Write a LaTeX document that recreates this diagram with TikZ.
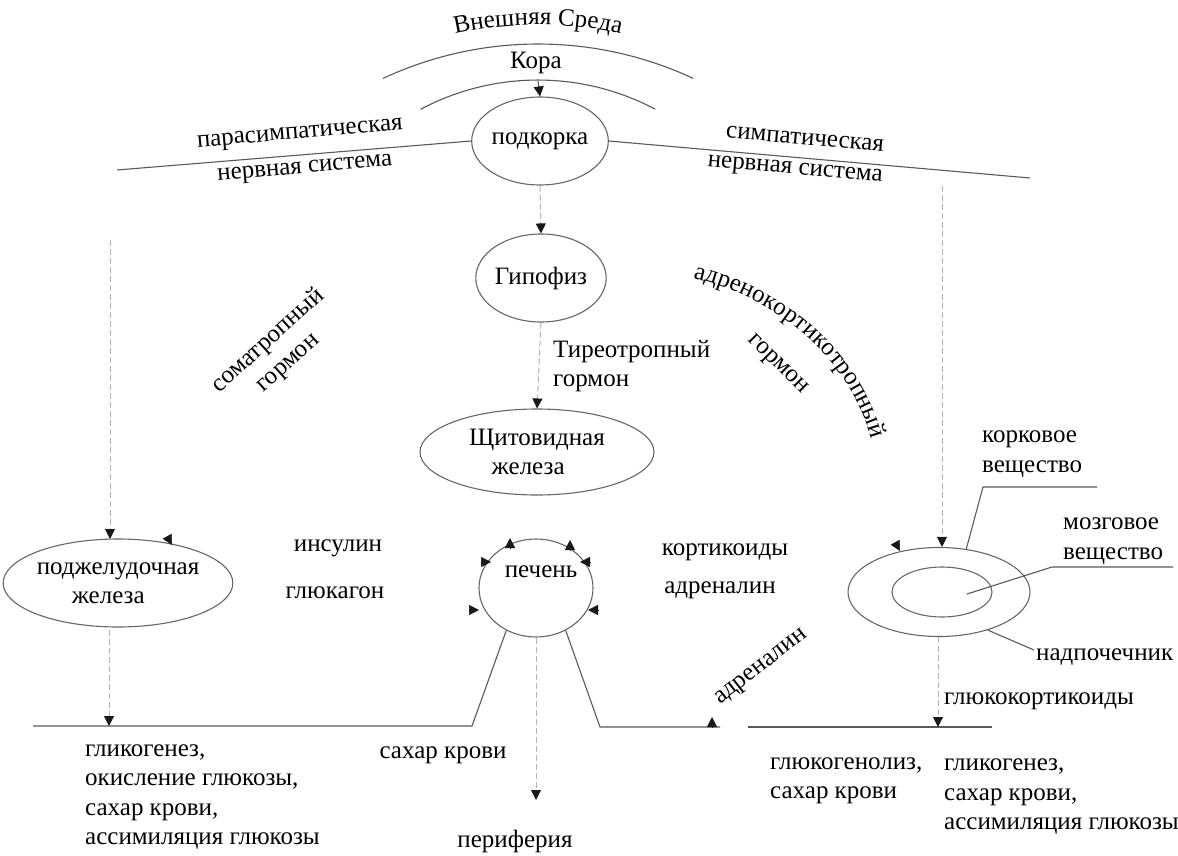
\documentclass[tikz,border=0pt]{standalone}
\usepackage{fontspec}
\setmainfont{Liberation Serif}
\newfontfamily\rusf{Liberation Serif}
\usetikzlibrary{shapes.geometric,arrows.meta,decorations.text,calc}
\begin{document}
\begin{tikzpicture}[x=1pt,y=-1pt,
  every node/.style={font=\rusf\fontsize{25}{29.5}\selectfont, inner sep=0pt, text=black},
  ell/.style={draw=black!60, line width=1.1pt, ellipse, inner sep=0pt},
  ln/.style={draw=black!65, line width=1.1pt},
  faint/.style={draw=black!30, line width=1pt, dash pattern=on 6pt off 3pt},
  arr/.style={-{Triangle[length=10pt,width=10pt,color=black!90]}},
  tiponly/.style={draw=black!90, line width=0.5pt, -{Triangle[length=10pt,width=10pt]}}
]
\useasboundingbox (0,0) rectangle (1178,856);

% --- top: arcs ---
\draw[ln] (383,78.4) arc[start angle=-115, end angle=-65, radius=367];
\draw[ln] (420.6,109.3) arc[start angle=-118, end angle=-62, radius=250];
\path[decorate, decoration={text along path, text align=center,
  text={|\rusf\fontsize{25}{30}\selectfont|Внешняя Среда}}]
  (393.4,53) arc[start angle=-112, end angle=-68, radius=386];
\node (kora) at (536,63) {Кора};
\coordinate (koratop) at (538,81);

% --- nodes ---
\node[ell, minimum width=122pt, minimum height=88pt] (pod) at (540,141) {подкорка};
\node[ell, minimum width=120pt, minimum height=88pt] (gip) at (541,278) {Гипофиз};
\node[ell, minimum width=234pt, minimum height=86pt, align=left] (thy) at (537,452) {Щитовидная\\\hspace*{0.9em}железа};
\node[ell, minimum width=114pt, minimum height=98pt] (liver) at (536,588) {};
\node (liverlab) at (541,572) {печень};
\node[ell, minimum width=210pt, minimum height=88pt, align=left] (panc) at (118,583) {поджелудочная\\\hspace*{1.4em}железа};
\node[ell, minimum width=182pt, minimum height=89pt] (adr) at (939,592) {};
\node[ell, minimum width=100pt, minimum height=50pt] (adrin) at (942,592) {};

% --- nerve system lines ---
\coordinate (pl) at (117,170);
\coordinate (pr) at (1030,178);
\draw[ln] (pl) -- (pod.west);
\draw[ln] (pod.east) -- (pr);
\node[rotate=5] (para) at (300,135) {парасимпатическая};
\node[rotate=5] (nerv1) at (305,170) {нервная система};
\node[rotate=-5] (sym) at (805,139) {симпатическая};
\node[rotate=-5] (nerv2) at (795,171) {нервная система};

% --- central column ---
\draw[ln, arr] (koratop) -- (pod.north);
\draw[faint, arr] (pod.south) -- (gip.north);
\draw[faint, arr] (gip.south) -- (thy.north);
\node[align=left, anchor=west] (tsh) at (553,366) {Тиреотропный\\гормон};

% --- side verticals ---
\coordinate (vl) at (110,240);
\draw[faint, arr] (vl) -- (110,539);
\coordinate (vr) at (942,186);
\draw[faint, arr] (vr) -- (vr |- adr.north);

% --- hormone labels ---
\node[rotate=42, align=center] (stg) at (278,352) {соматропный\\гормон};
\path[decorate, decoration={text along path, text align=center,
  text={|\rusf\fontsize{25}{30}\selectfont|адренокортикотропный}}]
  (664,273) .. controls (766,285) and (862,357) .. (878,468);
\node[rotate=-45] (acth2) at (777,365) {гормон};

\node (ins) at (338,548) {инсулин};
\node (glu) at (335,593) {глюкагон};
\node (kort) at (725,552) {кортикоиды};
\node (adrn) at (720,590) {адреналин};

% --- arrowheads at pancreas, adrenal ---
\draw[tiponly] (167,536) -- (172,545);
\draw[tiponly] (895,542) -- (900,551);

% --- arrowheads around liver ---
\draw[tiponly] (510,548) -- (510,538);
\draw[tiponly] (570,550) -- (570,540);
\draw[tiponly] (481,562) -- (491,562);
\draw[tiponly] (469,610) -- (479,610);
\draw[tiponly] (590,562) -- (580,562);
\draw[tiponly] (598,610) -- (588,610);

% --- adrenal labels ---
\node[align=left, anchor=west] (kor) at (982,454) {корковое\\вещество};
\node[align=left, anchor=west] (moz) at (1063,541) {мозговое\\вещество};
\node[anchor=west] (nadp) at (1036,657) {надпочечник};
\draw[ln] (1097,487) -- (983,487) -- (966,550);
\draw[ln] (1173,567) -- (1052,567) -- (967,594);
\draw[ln] (adr.-38) -- (1034,650);

% --- bottom lines ---
\coordinate (bl0) at (33,726);
\coordinate (bl1) at (472,726);
\coordinate (br0) at (600,727);
\coordinate (br1) at (720,727);
\coordinate (br2) at (748,727);
\coordinate (br3) at (992,727);
\draw[ln] (bl0) -- (bl1) -- (liver.235);
\draw[ln] (liver.305) -- (br0) -- (br1);
\draw[ln] (br2) -- (br3);

\draw[faint, arr] (109,630) -- (109 ,726);
\draw[faint, arr] (liver.south) -- (536,800);
\draw[faint, arr] (adr.south -| 938,0) -- (938,727);
\draw[tiponly] (712,727) -- (712,717);

\node[anchor=west] (gkort) at (944,701) {глюкокортикоиды};
\node[rotate=38] (adr2) at (762,668) {адреналин};

% --- bottom texts ---
\node[align=left, anchor=west] (b1) at (85,797) {гликогенез,\\окисление глюкозы,\\сахар крови,\\ассимиляция глюкозы};
\node (b2) at (443,755) {сахар крови};
\node (per) at (515,841) {периферия};
\node[align=left, anchor=west] (b3) at (770,781) {глюкогенолиз,\\сахар крови};
\node[align=left, anchor=west] (b4) at (944,797) {гликогенез,\\сахар крови,\\ассимиляция глюкозы};
\end{tikzpicture}
\end{document}
